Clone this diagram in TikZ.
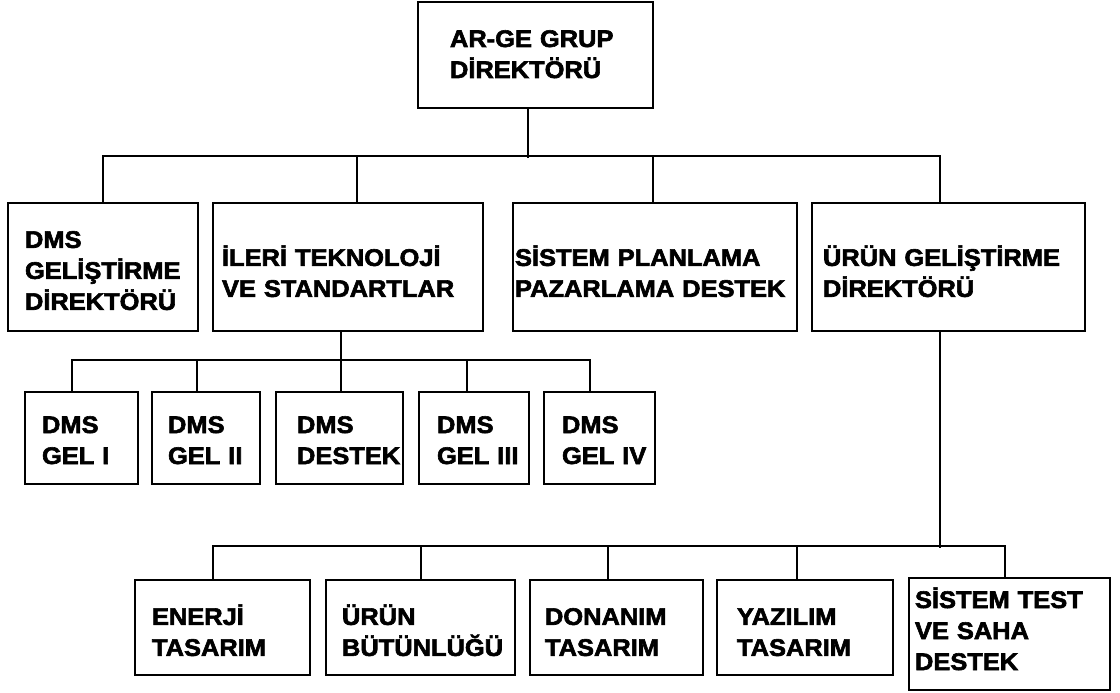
\documentclass[tikz,border=0pt]{standalone}
\usepackage{fontspec}
\setmainfont[FakeStretch=1.06, FakeBold=2.5]{Liberation Sans}
% keep every baseline distance exact, even with accented capitals
\lineskiplimit=-50pt
\lineskip=0pt
\tikzset{
  orgbox/.style={draw, rectangle, line width=2pt, align=left, inner ysep=0pt,
    font=\fontsize{24}{31}\selectfont\bfseries},
  % fixed strut above the first line and below the last one
  struts/.style 2 args={execute at begin node={\rule{0pt}{#1pt}},
    execute at end node={\rule[-#2pt]{0pt}{#2pt}}},
  link/.style={line width=2pt}
}
\begin{document}
\begin{tikzpicture}[x=1pt,y=-1pt]
\useasboundingbox (0,0) rectangle (1120,693);

% top level
\node[orgbox, struts={24}{9}, text width=171pt, inner xsep=32pt, minimum height=106pt] (top) at (535.5,55)
  {AR-GE~GRUP\\D\.IREKTÖRÜ};

% second level
\node[orgbox, struts={24}{0}, text width=156pt, inner xsep=17pt, minimum height=128pt] (b1) at (103,267)
  {DMS\\GEL\.IŞT\.IRME\\D\.IREKTÖRÜ};
\begin{scope}[every node/.append style={struts={29}{0}, minimum height=128pt}]
\node[orgbox, text width=252pt, inner xsep=9pt] (b2) at (348,267)
  {\.ILER\.I~TEKNOLOJ\.I\\VE~STANDARTLAR};
\node[orgbox, text width=280pt, inner xsep=2pt] (b3) at (655,267)
  {S\.ISTEM~PLANLAMA\\PAZARLAMA~DESTEK};
\node[orgbox, text width=251pt, inner xsep=11pt] (b4) at (948.5,267)
  {ÜRÜN~GEL\.IŞT\.IRME\\D\.IREKTÖRÜ};
\end{scope}

% units under the technology group
\begin{scope}[every node/.append style={struts={24}{3}, minimum height=92pt}]
\node[orgbox, text width=79pt, inner xsep=17pt] (c1) at (81.5,438) {DMS\\GEL~I};
\node[orgbox, text width=76pt, inner xsep=16pt] (c2) at (206,438) {DMS\\GEL~II};
\node[orgbox, text width=85pt, inner xsep=21pt] (c3) at (339.5,438) {DMS\\DESTEK};
\node[orgbox, text width=74pt, inner xsep=18pt] (c4) at (474,438) {DMS\\GEL~III};
\node[orgbox, text width=75pt, inner xsep=18pt] (c5) at (599.5,438) {DMS\\GEL~IV};
\end{scope}

% units under product development
\begin{scope}[every node/.append style={struts={26}{0}, minimum height=95pt}]
\node[orgbox, text width=141pt, inner xsep=17pt] (d1) at (222.5,627.5) {ENERJ\.I\\TASARIM};
\node[orgbox, text width=157pt, inner xsep=16pt] (d2) at (420.5,627.5) {ÜRÜN\\BÜTÜNLÜĞÜ};
\node[orgbox, text width=143pt, inner xsep=15pt] (d3) at (616.5,627.5) {DONANIM\\TASARIM};
\node[orgbox, text width=136pt, inner xsep=20pt] (d4) at (805,627.5) {YAZILIM\\TASARIM};
\end{scope}
\node[orgbox, struts={24}{14}, text width=189pt, inner xsep=6pt, minimum height=112pt] (d5) at (1009.5,634)
  {S\.ISTEM~TEST\\VE~SAHA\\DESTEK};

% connectors: top level to second level
\draw[link] ([xshift=-7.5]top.south) -- ++(0,49);
\draw[link] (b1.north) -- ++(0,-46) -| ([xshift=-8.5]b4.north);
\draw[link] ([xshift=9]b2.north) -- ++(0,-46);
\draw[link] ([xshift=-2]b3.north) -- ++(0,-46);

% connectors: technology group to its units
\draw[link] ([xshift=-7]b2.south) -- ++(0,30);
\draw[link] ([xshift=-9.5]c1.north) -- ++(0,-31) -| ([xshift=-9.5]c5.north);
\draw[link] ([xshift=-9]c2.north) -- ++(0,-31);
\draw[link] ([xshift=1.5]c3.north) -- ++(0,-31);
\draw[link] ([xshift=-7]c4.north) -- ++(0,-31);

% connectors: product development to its units
\draw[link] ([xshift=-8.5]b4.south) -- ++(0,216);
\draw[link] ([xshift=-9.5]d1.north) -- ++(0,-33) -| ([xshift=-4.5]d5.north);
\draw[link] (d2.north) -- ++(0,-33);
\draw[link] ([xshift=-8.5]d3.north) -- ++(0,-33);
\draw[link] ([xshift=-8]d4.north) -- ++(0,-33);
\end{tikzpicture}
\end{document}
